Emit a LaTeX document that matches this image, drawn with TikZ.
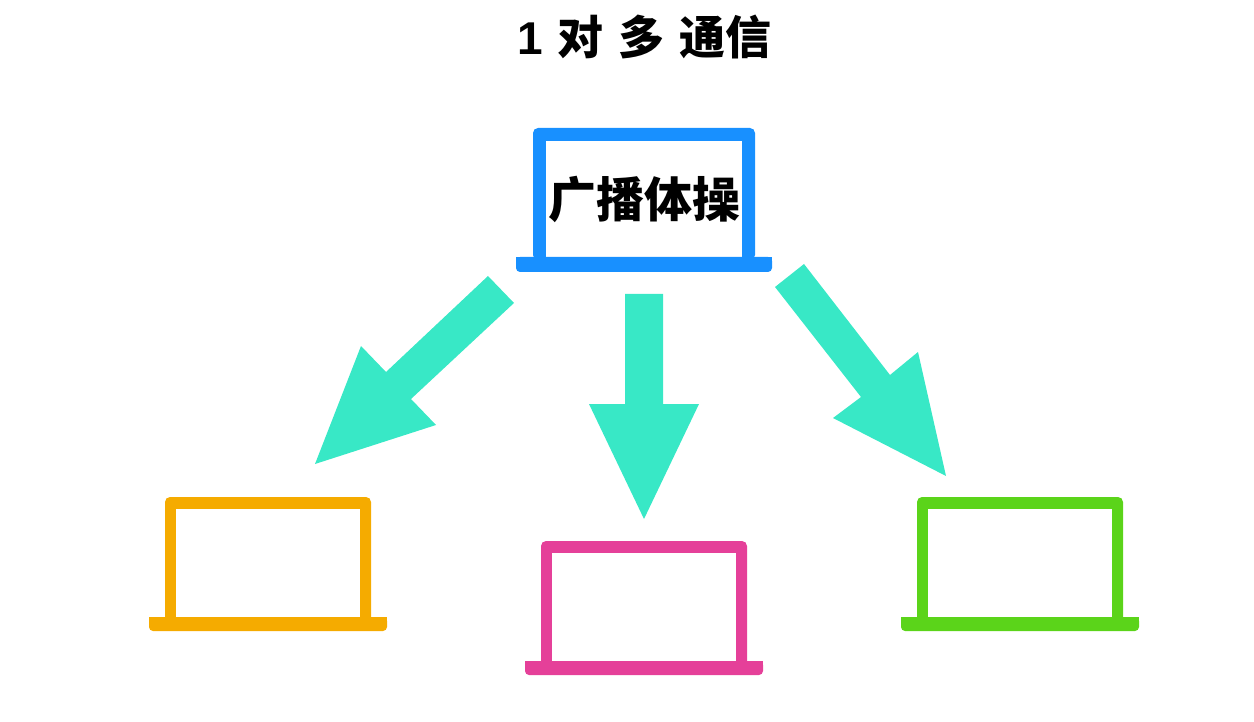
\documentclass[tikz,border=0pt]{standalone}
\usepackage{fontspec}
\newfontfamily\cjk{Noto Sans CJK SC}
\setmainfont{Liberation Sans}
\definecolor{cblue}{HTML}{1890FF}
\definecolor{corange}{HTML}{F5AB00}
\definecolor{cpink}{HTML}{E54099}
\definecolor{cgreen}{HTML}{5BD41A}
\definecolor{carrow}{HTML}{38E8C6}
\tikzset{x=1pt,y=-1pt,
 arrowshape/.style={fill=carrow,draw=none},
 titletext/.style={font=\cjk\bfseries\fontsize{46}{50}\selectfont,inner sep=0pt},
 labeltext/.style={font=\cjk\bfseries\fontsize{48}{52}\selectfont,inner sep=0pt}}
\begin{document}
\begin{tikzpicture}
\path[use as bounding box] (0,0) rectangle (1254,722);
\node[titletext] (title) at (644.5,37) {{\rmfamily\bfseries 1}\hspace{15pt}对\hspace{15pt}多\hspace{15pt}通信};
% top laptop
\fill[cblue,rounded corners=5pt] (533,260) -- (533,128) -- (755,128) -- (755,260) -- cycle;
\fill[white] (546,141) rectangle (742,258);
\fill[cblue,rounded corners=4pt] (516,257) -- (772,257) -- (772,272) -- (516,272) -- cycle;
\fill[cblue] (516,257) rectangle (772,264);
\node[labeltext] (lbl) at (644,199) {广播体操};
% bottom laptops
\foreach \cx/\ty/\c in {268/497/corange,644/541/cpink,1020/497/cgreen}{
 \fill[\c,rounded corners=5pt] (\cx-103,\ty+125) -- (\cx-103,\ty) -- (\cx+103,\ty) -- (\cx+103,\ty+125) -- cycle;
 \fill[white] (\cx-92,\ty+12) rectangle (\cx+92,\ty+121);
 \fill[\c,rounded corners=4pt] (\cx-119,\ty+120) -- (\cx+119,\ty+120) -- (\cx+119,\ty+134) -- (\cx-119,\ty+134) -- cycle;
 \fill[\c] (\cx-119,\ty+120) rectangle (\cx+119,\ty+126);
}
% arrows
\fill[arrowshape] (625,294) -- (663,294) -- (663,404) -- (699,404) -- (644,519) -- (589,404) -- (625,404) -- cycle;
\fill[arrowshape] (488,276) -- (514,303) -- (411,399) -- (436,425) -- (315,464) -- (361,346) -- (386,372) -- cycle;
\fill[arrowshape] (775,287) -- (804,264) -- (890,375) -- (918,352) -- (946,476) -- (833,418) -- (861,397) -- cycle;
\end{tikzpicture}
\end{document}
